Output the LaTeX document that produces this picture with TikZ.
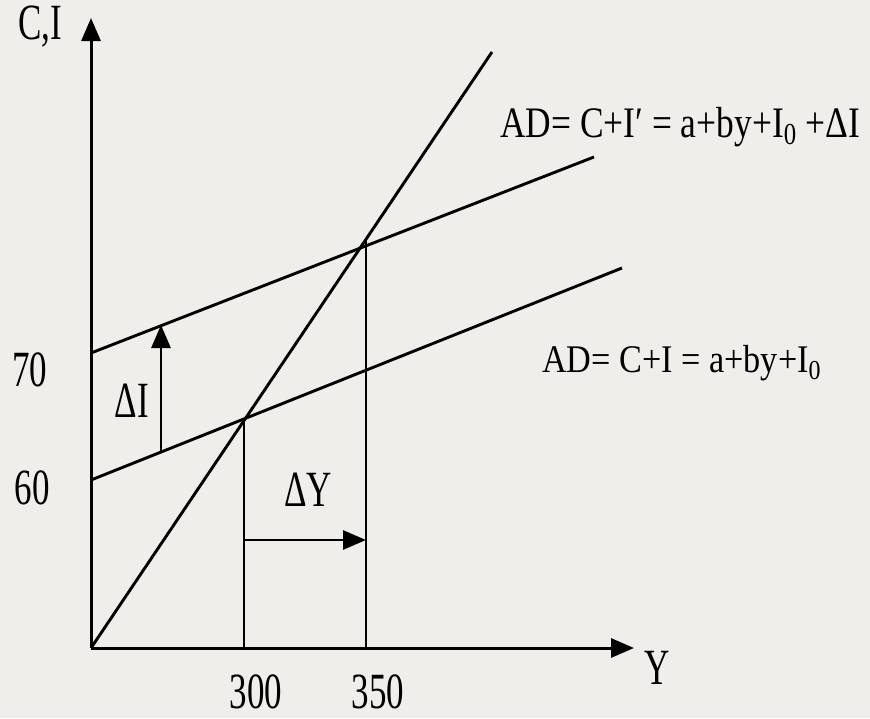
\documentclass[tikz,border=0pt]{standalone}
\usepackage{fontspec}
\setmainfont{Liberation Serif}
\usetikzlibrary{arrows.meta}
\definecolor{paper}{RGB}{240,238,235}

\begin{document}
\begin{tikzpicture}[x=1pt,y=-1pt,>={Triangle[length=23pt,width=19pt]},
axis/.style={->,line width=3pt},
curve/.style={line width=2.9pt},
guide/.style={line width=2.6pt},
shiftarrow/.style={->,line width=2.8pt},
lab/.style={font=\fontsize{35}{40}\selectfont,inner sep=0pt,yscale=1.45},
eq/.style={lab,font=\fontsize{30}{36}\selectfont,anchor=base west}]
\fill[paper] (0,0) rectangle (870,718);
\useasboundingbox (0,0) rectangle (870,718);
% axes
\coordinate (O) at (91,648);
\coordinate (ytop) at (91,18);
\coordinate (xend) at (634,648);
\draw[axis] (O)--(ytop);
\draw[axis] (O)--(xend);
% 45 degree line and the two AD lines
\coordinate (diag) at (492,52);
\coordinate (ad0a) at (91,480);
\coordinate (ad0b) at (622,268);
\coordinate (ad1a) at (91,353);
\coordinate (ad1b) at (594,157);
\draw[curve] (O)--(diag);
\draw[curve] (ad0a)--(ad0b);
\draw[curve] (ad1a)--(ad1b);
% equilibria
\coordinate (E0) at (244,420);
\coordinate (E1) at (366,241);
\draw[guide] (E0)--(E0|-O);
\draw[guide] (E1)--(E1|-O);
% shifts
\coordinate (dIlow) at (161,452);
\coordinate (dIup) at (161,325);
\draw[shiftarrow] (dIlow)--(dIup);
\coordinate (dYa) at (244,540);
\draw[shiftarrow] (dYa)--(dYa-|E1);
% labels
\node[lab] (ci) at (40,27) {C,I};
\node[lab] (v70) at (30,370) {70};
\node[lab] (v60) at (32,488) {60};
\node[lab] (t300) at (256,692) {300};
\node[lab] (t350) at (378,692) {350};
\node[lab] (ylab) at (657,668) {Y};
\node[lab] (dI) at (132,401) {ΔI};
\node[lab] (dY) at (308,490) {ΔY};
\node[eq,xscale=1.18] (equp) at (500,137) {AD= C+I′ = a+by+I\textsubscript{0} +ΔI};
\node[eq,xscale=1.14,yscale=0.9] (eqlow) at (542,372) {AD= C+I = a+by+I\textsubscript{0}};
\end{tikzpicture}
\end{document}
